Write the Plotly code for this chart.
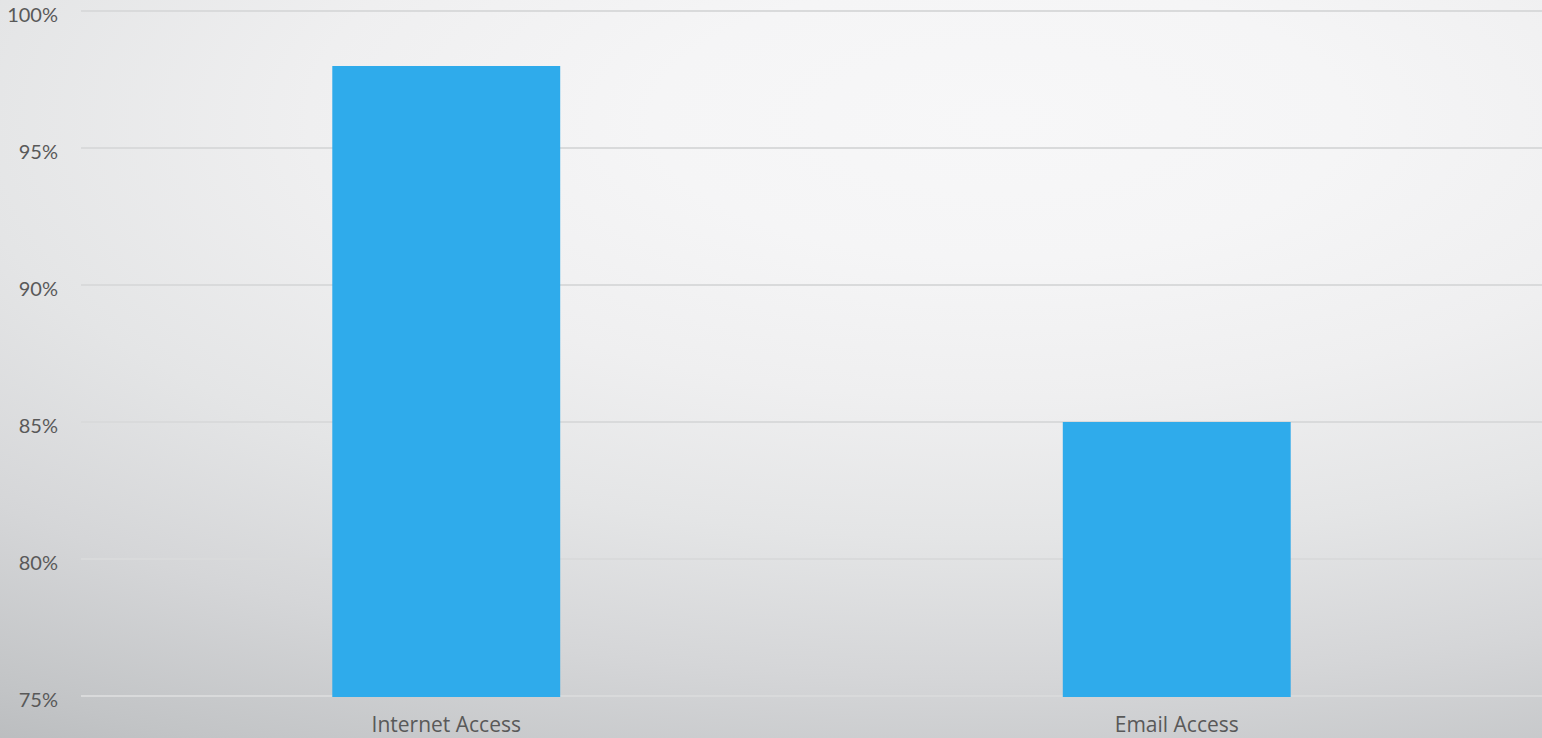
import base64
import plotly.graph_objects as go

categories = ["Internet Access", "Email Access"]
values = [98, 85]
tick_vals = [75, 80, 85, 90, 95, 100]
tick_text = ["75%", "80%", "85%", "90%", "95%", "100%"]

W, H = 1542, 738
ML, MR, MT, MB = 81, 0, 10, 41
PW, PH = W - ML - MR, H - MT - MB

cx, cy, rx, ry = 1000, 120, 1730, 697
stops = []
for t in [0, 0.2, 0.4, 0.6, 0.8, 1.0, 1.2]:
    d = 50 * t * t
    r = round(247 - d - 3 * t * t)
    g = round(247 - d - 1 * t * t)
    b = round(248 - d)
    stops.append(f'<stop offset="{min(t / 1.2, 1):.3f}" stop-color="rgb({r},{g},{b})"/>')
R = rx * 1.2
svg = f'''<svg xmlns="http://www.w3.org/2000/svg" width="{W}" height="{H}" viewBox="0 0 {W} {H}" preserveAspectRatio="none">
<defs><radialGradient id="g" gradientUnits="userSpaceOnUse" cx="{cx}" cy="{cy}" r="{R}" fx="{cx}" fy="{cy}"
gradientTransform="translate({cx},{cy}) scale(1,{ry / rx:.4f}) translate({-cx},{-cy})">
{''.join(stops)}
</radialGradient></defs>
<rect x="0" y="0" width="{W}" height="{H}" fill="url(#g)"/>
</svg>'''
src = "data:image/svg+xml;base64," + base64.b64encode(svg.encode()).decode()

fig = go.Figure()
fig.add_trace(go.Bar(x=categories, y=values, marker=dict(color="#2fabeb", line=dict(width=0))))

fig.update_layout(
    width=W, height=H,
    margin=dict(l=ML, r=MR, t=MT, b=MB, pad=0, autoexpand=False),
    paper_bgcolor="rgba(0,0,0,0)",
    plot_bgcolor="rgba(0,0,0,0)",
    bargap=0.688,
    showlegend=False,
    font=dict(family="Open Sans", color="#595959", size=21),
    images=[dict(source=src, xref="paper", yref="paper",
                 x=-ML / PW, y=1 + MT / PH, sizex=W / PW, sizey=H / PH,
                 xanchor="left", yanchor="top", sizing="stretch", layer="below")],
)
fig.update_yaxes(range=[74.95, 100.05], tickvals=tick_vals, ticktext=tick_text,
                 showgrid=True, gridcolor="#d9dadb", gridwidth=1.5,
                 zeroline=False, showline=False, ticks="", ticklabelstandoff=22,
                 ticklabeloverflow="allow", automargin=False, ticklabelshift=4,
                 tickfont=dict(size=20, family="Lato", color="#595959"))
fig.update_xaxes(showgrid=False, showline=False, ticks="", zeroline=False,
                 ticklabelstandoff=13, ticklabeloverflow="allow", automargin=False,
                 tickfont=dict(size=21, family="Open Sans", color="#595959"))

fig.write_html("out.html", config={"displayModeBar": False})
